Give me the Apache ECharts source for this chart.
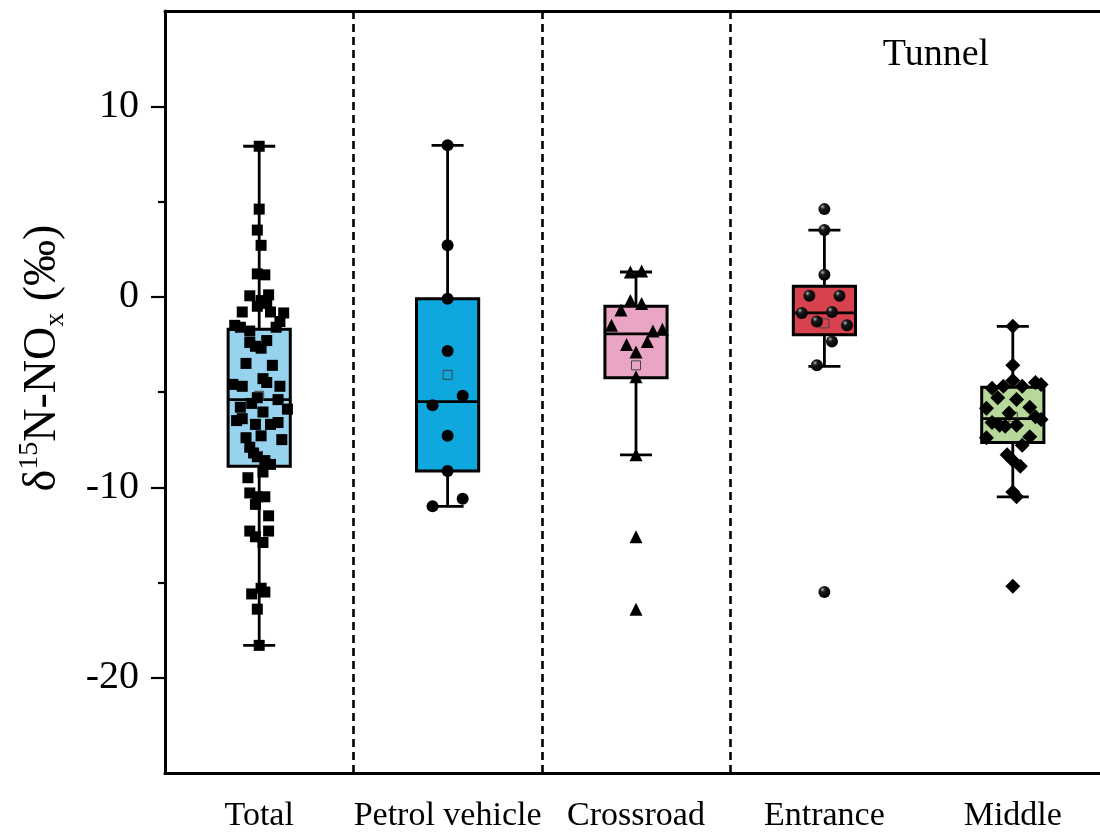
<!DOCTYPE html>
<html>
<head>
<meta charset="utf-8">
<script src="https://cdn.jsdelivr.net/npm/echarts@6/dist/echarts.min.js"></script>
<style>
html,body{margin:0;padding:0;background:#fff;}
#chart{width:1100px;height:832px;}
</style>
</head>
<body>
<div id="chart"></div>
<script>
// ---------------- DATA ----------------
const categories = ['Total', 'Petrol vehicle', 'Crossroad', 'Entrance', 'Middle'];

// box statistics (per category)
const statMin    = [-18.3, -11.0, -8.3, -3.65, -10.5];
const statQ1     = [-8.9, -9.15, -4.25, -2.0, -7.65];
const statMedian = [-5.4, -5.5, -1.95, -0.85, -6.4];
const statQ3     = [-1.7, -0.1, -0.5, 0.55, -4.75];
const statMax    = [7.9, 7.95, 1.3, 3.5, -1.55];
const statMean   = [-5.2, -4.1, -3.6, -1.4, -6.3];

// individual samples (values) and their horizontal jitter (in category units)
const totalValues = [7.9, 4.6, 3.5, 2.7, 1.2, 1.15, 0.05, 0.1, -0.2, -0.5, -0.35, -0.8, -0.8, -0.85, -1.3, -1.5, -1.6, -1.6, -1.8,
  -2.3, -2.6, -2.4, -2.7, -3.5, -3.6, -4.6, -4.7, -4.3, -4.5, -4.7, -5.3, -5.4, -5.8, -5.6, -6.05, -5.9, -6.5, -6.4, -6.7, -6.7,
  -6.6, -7.4, -7.3, -7.5, -7.9, -8.2, -8.4, -8.6, -8.8, -9.2, -9.5, -10.3, -10.5, -10.5, -10.9, -11.5, -12.3, -12.3, -12.6, -12.9,
  -15.6, -15.5, -15.3, -16.4, -18.3];
const totalJitter = [0, 0, -0.01, 0.01, -0.01, 0.03, -0.05, 0.05, 0.01, -0.01, 0.04, -0.09, 0.06, 0.13, 0.11, -0.13, -0.10, 0.09, -0.05,
  0.04, -0.02, -0.05, 0.01, -0.07, 0.07, -0.14, -0.09, 0.02, 0.04, 0.11, -0.01, 0.10, -0.10, -0.04, 0.02, 0.15, -0.12, -0.09, -0.02, 0.06,
  0.10, -0.07, 0.01, 0.12, -0.05, -0.03, -0.01, 0.03, 0.06, 0.02, -0.06, -0.05, -0.01, 0.03, -0.02, 0.05, -0.05, 0.05, -0.02, 0.02,
  -0.04, 0.03, 0.01, -0.01, 0];

const petrolValues = [7.95, 2.7, -0.1, -2.85, -5.2, -5.7, -7.3, -9.15, -10.6, -11.0];
const petrolJitter = [0, 0, 0, 0, 0.08, -0.08, 0, 0, 0.08, -0.08];

const crossValues = [1.3, 1.35, -0.2, -0.35, -0.7, -1.5, -1.8, -1.7, -2.5, -2.35, -2.9, -4.2, -8.3, -12.6, -16.4];
const crossJitter = [-0.03, 0.03, -0.03, 0.03, -0.08, -0.13, 0.09, 0.14, -0.05, 0.06, 0, 0, 0, 0, 0];

const entranceValues = [4.6, 3.5, 1.15, 0.05, 0.05, -0.85, -0.8, -1.3, -1.5, -2.35, -3.6, -15.5];
const entranceJitter = [0, 0, 0, -0.08, 0.08, -0.12, 0.04, -0.04, 0.12, 0.04, -0.04, 0];

const middleValues = [-1.55, -3.6, -4.8, -4.7, -4.4, -4.7, -4.5, -4.6, -5.3, -5.4, -5.8, -5.85, -6.1, -6.3, -6.45, -6.6, -6.75,
  -6.8, -6.75, -7.4, -7.35, -7.8, -8.3, -8.6, -8.9, -10.25, -10.5, -15.2];
const middleJitter = [0, 0, -0.11, -0.05, 0, 0.05, 0.12, 0.15, -0.08, 0.02, 0.09, -0.14, -0.02, 0.12, 0.15, -0.11, -0.07,
  -0.04, 0.02, -0.14, 0.09, 0.05, -0.03, 0, 0.04, 0, 0.02, 0];

const yMajorTicks = [-20, -10, 0, 10];
const yMinorTicks = [-15, -5, 5];
const dividers = [0.5, 1.5, 2.5];   // dashed separators between groups

// ---------------- STYLE ----------------
const boxColors = ['#97D2EE', '#0EA7DE', '#EAA5C5', '#D8424F', '#B8D89B'];
const FONT = '"Liberation Serif", "Times New Roman", serif';

const sphere = {
  type: 'radial', x: 0.35, y: 0.3, r: 0.7,
  colorStops: [{offset: 0, color: '#b0b0b0'}, {offset: 0.3, color: '#1a1a1a'}, {offset: 1, color: '#000'}]
};

const groups = [
  {values: totalValues, jitter: totalJitter, symbol: 'rect', size: 11, color: '#000'},
  {values: petrolValues, jitter: petrolJitter, symbol: 'circle', size: 12, color: '#000'},
  {values: crossValues, jitter: crossJitter, symbol: 'triangle', size: 13, color: '#000'},
  {values: entranceValues, jitter: entranceJitter, symbol: 'circle', size: 12, color: sphere},
  {values: middleValues, jitter: middleJitter, symbol: 'diamond', size: 15, color: '#000'}
];

const boxData = categories.map((c, i) => [i, statMin[i], statQ1[i], statMedian[i], statQ3[i], statMax[i], statMean[i]]);

function renderBox(params, api) {
  const x = api.value(0);
  const pMin = api.coord([x, api.value(1)]);
  const pQ1 = api.coord([x, api.value(2)]);
  const pMed = api.coord([x, api.value(3)]);
  const pQ3 = api.coord([x, api.value(4)]);
  const pMax = api.coord([x, api.value(5)]);
  const pMean = api.coord([x, api.value(6)]);
  const band = api.size([1, 0])[0];
  const bw = band * 0.33, cw = band * 0.17;
  const cx = pMed[0];
  const line = {stroke: '#000', lineWidth: 2.8};
  return {
    type: 'group',
    children: [
      {type: 'line', shape: {x1: cx, y1: pMax[1], x2: cx, y2: pMin[1]}, style: line},
      {type: 'line', shape: {x1: cx - cw / 2, y1: pMax[1], x2: cx + cw / 2, y2: pMax[1]}, style: line},
      {type: 'line', shape: {x1: cx - cw / 2, y1: pMin[1], x2: cx + cw / 2, y2: pMin[1]}, style: line},
      {type: 'rect', shape: {x: cx - bw / 2, y: pQ3[1], width: bw, height: pQ1[1] - pQ3[1]},
        style: {fill: boxColors[params.dataIndex], stroke: '#000', lineWidth: 3}},
      {type: 'line', shape: {x1: cx - bw / 2, y1: pMed[1], x2: cx + bw / 2, y2: pMed[1]}, style: line},
      {type: 'rect', shape: {x: cx - 4.5, y: pMean[1] - 4.5, width: 9, height: 9},
        style: {fill: 'none', stroke: '#444', lineWidth: 1}}
    ]
  };
}

const series = [{
  type: 'custom',
  xAxisIndex: 2,
  yAxisIndex: 0,
  renderItem: renderBox,
  data: boxData,
  z: 2,
  markLine: {
    silent: true,
    symbol: ['none', 'none'],
    label: {show: false},
    lineStyle: {color: '#000', type: [8, 5], width: 2.6},
    data: dividers.map(v => ({xAxis: v}))
  }
}];

groups.forEach((g, i) => {
  series.push({
    type: 'scatter',
    xAxisIndex: 2,
    yAxisIndex: 0,
    symbol: g.symbol,
    symbolSize: g.size,
    itemStyle: {color: g.color, opacity: 1},
    z: 3,
    data: g.values.map((v, k) => [i + g.jitter[k], v])
  });
});

const chart = echarts.init(document.getElementById('chart'), null, {renderer: 'canvas'});
chart.setOption({
  animation: false,
  backgroundColor: '#fff',
  grid: {left: 165, width: 942, top: 11, bottom: 59, containLabel: false, outerBoundsMode: 'none'},
  xAxis: [
    {
      type: 'category', data: categories, position: 'bottom', boundaryGap: true,
      axisLine: {onZero: false, lineStyle: {color: '#000', width: 3}},
      axisTick: {alignWithLabel: true, length: 15, lineStyle: {color: '#000', width: 2.2}},
      axisLabel: {interval: 0, color: '#000', fontFamily: FONT, fontSize: 34, margin: 26},
      splitLine: {show: false}
    },
    {
      type: 'category', data: categories, position: 'top',
      axisLine: {onZero: false, lineStyle: {color: '#000', width: 3}},
      axisTick: {show: false}, axisLabel: {show: false}, splitLine: {show: false}
    },
    {type: 'value', min: -0.5, max: 4.5, show: false, axisLine: {onZero: false}}
  ],
  yAxis: [
    {
      type: 'value', min: -25, max: 15, position: 'left',
      axisLine: {show: true, onZero: false, lineStyle: {color: '#000', width: 3}},
      axisTick: {show: true, customValues: yMajorTicks, length: 14, lineStyle: {color: '#000', width: 2.2}},
      axisLabel: {customValues: yMajorTicks, color: '#000', fontFamily: FONT, fontSize: 40, margin: 26},
      splitLine: {show: false}
    },
    {
      type: 'value', min: -25, max: 15, position: 'left',
      axisLine: {show: false, onZero: false},
      axisTick: {show: true, customValues: yMinorTicks, length: 7, lineStyle: {color: '#000', width: 2.2}},
      axisLabel: {show: false},
      splitLine: {show: false}
    }
  ],
  graphic: [
    {
      type: 'text', x: 43, y: 358, rotation: Math.PI / 2,
      style: {
        text: '{n|δ}{sup|15}{n|N-NO}{sub|x}{n| (‰)}',
        align: 'center', verticalAlign: 'middle',
        fill: '#000',
        rich: {
          n: {fontFamily: FONT, fontSize: 46, lineHeight: 54, fill: '#000'},
          sup: {fontFamily: FONT, fontSize: 28, lineHeight: 30, verticalAlign: 'top', fill: '#000'},
          sub: {fontFamily: FONT, fontSize: 28, lineHeight: 30, verticalAlign: 'bottom', fill: '#000'}
        }
      }
    },
    {
      type: 'text', x: 936, y: 55,
      style: {text: 'Tunnel', fontFamily: FONT, fontSize: 38, fill: '#000', align: 'center', verticalAlign: 'middle'}
    }
  ],
  series: series
});
</script>
</body>
</html>
